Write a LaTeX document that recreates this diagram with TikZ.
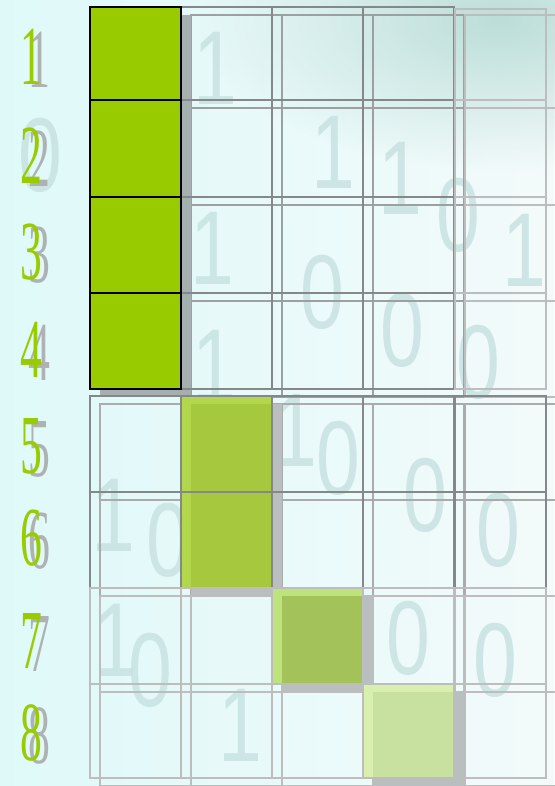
\documentclass[tikz,border=0pt]{standalone}
\usepackage{fontspec}
\setmainfont{Liberation Serif}
\newfontfamily\bitfont{Liberation Sans}
\usetikzlibrary{fadings}
\definecolor{cellGreen}{HTML}{99CC00}
\definecolor{bgBase}{HTML}{DFF9F9}
\definecolor{bgPale}{HTML}{F3FAFA}
\definecolor{bgTeal}{HTML}{BCDED8}
\definecolor{bitTeal}{HTML}{C6E0E0}
\definecolor{numGray}{HTML}{AEB2B2}
\definecolor{lineDark}{HTML}{858888}
\definecolor{lineLight}{HTML}{BDBDBD}
\definecolor{shadeGray}{HTML}{A5AFAF}
\definecolor{shadeLight}{HTML}{B9BEBE}
\definecolor{stripA}{HTML}{B2D64C}
\definecolor{mainA}{HTML}{A5C83E}
\definecolor{stripB}{HTML}{BEE27C}
\definecolor{mainB}{HTML}{A3C25A}
\definecolor{stripC}{HTML}{D9EFB0}
\definecolor{mainC}{HTML}{C9E1A0}
\tikzfading[name=tealfade, inner color=transparent!0, outer color=transparent!100]

\begin{document}
\begin{tikzpicture}[x=1pt, y=-1pt,
    numlbl/.style={inner sep=0pt, text=cellGreen, font=\fontsize{84}{84}\selectfont},
    numshade/.style={numlbl, text=numGray},
    bit/.style={inner sep=0pt, text=bitTeal, text opacity=0.8, font=\bitfont\fontsize{105}{105}\selectfont},
    darkcell/.style={draw=lineDark, line width=1.3pt},
    lightcell/.style={draw=lineLight, line width=1.3pt},
    greencell/.style={draw=black, line width=1.6pt, fill=cellGreen}]
    \useasboundingbox (0,0) rectangle (554,786);

    % background
    \shade[left color=bgBase, right color=bgPale] (0,0) rectangle (554,786);
    \fill[bgTeal, path fading=tealfade] (500,20) ellipse (300 and 150);
    \foreach \x/\y/\b [count=\i] in {215/68/1, 40/155/0, 333/152/1, 400/178/1, 458/215/0,
        524/250/1, 212/248/1, 322/292/0, 402/330/0, 478/362/0, 214/366/1,
        295/430/1, 338/458/0, 425/495/0, 498/530/0, 113/515/1, 168/540/0,
        115/640/1, 150/670/0, 408/638/0, 495/660/0, 240/725/1}
        \node[bit] (bit\i) at (\x,\y) {\scalebox{0.75}[1]{\b}};

    % shadows of the cells
    \foreach \t/\b in {7/100, 100/197, 197/293, 293/389}
        \foreach \l in {181, 272, 363}
            \draw[darkcell, draw=lineDark!80] (\l+10,\t+8) rectangle (\l+101,\b+8);
    \foreach \t/\b in {7/100, 100/197, 197/293, 293/389}
        \draw[lightcell] (465,\t+8) rectangle (556,\b+8);
    \foreach \t/\b in {396/492, 492/588}
        \foreach \l in {90, 181, 272, 363, 455}
            \draw[darkcell, draw=lineDark!70] (\l+10,\t+8) rectangle (\l+101,\b+8);
    \foreach \t/\b in {588/684, 684/778}
        \foreach \l in {90, 181, 272, 363, 455}
            \draw[lightcell] (\l+10,\t+8) rectangle (\l+101,\b+8);

    % coloured cells with their shadows
    \fill[shadeGray] (100,15) rectangle (191,397);
    \fill[shadeLight] (191,404) rectangle (282,596);
    \fill[stripA] (181,396) rectangle (272,588);
    \fill[mainA] (191,404) rectangle (272,588);
    \fill[shadeLight] (282,596) rectangle (373,692);
    \fill[stripB] (272,588) rectangle (363,684);
    \fill[mainB] (282,596) rectangle (363,684);
    \fill[shadeLight] (373,692) rectangle (464,786);
    \fill[stripC] (363,684) rectangle (455,778);
    \fill[mainC] (373,692) rectangle (455,778);

    % cell outlines
    \foreach \t/\b in {7/100, 100/197, 197/293, 293/389}
        \foreach \l in {181, 272, 363}
            \draw[darkcell] (\l,\t) rectangle (\l+91,\b);
    \foreach \t/\b in {9/100, 100/197, 197/293, 293/389}
        \draw[lightcell] (455,\t) rectangle (546,\b);
    \foreach \t/\b in {396/492, 492/588}
        \foreach \l in {90, 181, 272, 363, 455}
            \draw[darkcell] (\l,\t) rectangle (\l+91,\b);
    \foreach \t/\b in {588/684, 684/778}
        \foreach \l in {90, 181, 272, 363, 455}
            \draw[lightcell] (\l,\t) rectangle (\l+91,\b);
    \foreach \t/\b in {7/100, 100/197, 197/293, 293/389}
        \draw[greencell] (90,\t) rectangle (181,\b);

    % row numbers
    \foreach \n/\y in {1/57, 2/156, 3/252, 4/350, 5/446, 6/538, 7/641, 8/733} {
        \node[numshade] (s\n) at (39,\y+3) {\scalebox{0.52}[1]{\n}};
        \node[numlbl] (n\n) at (31,\y) {\scalebox{0.52}[1]{\n}};
    }
\end{tikzpicture}
\end{document}
